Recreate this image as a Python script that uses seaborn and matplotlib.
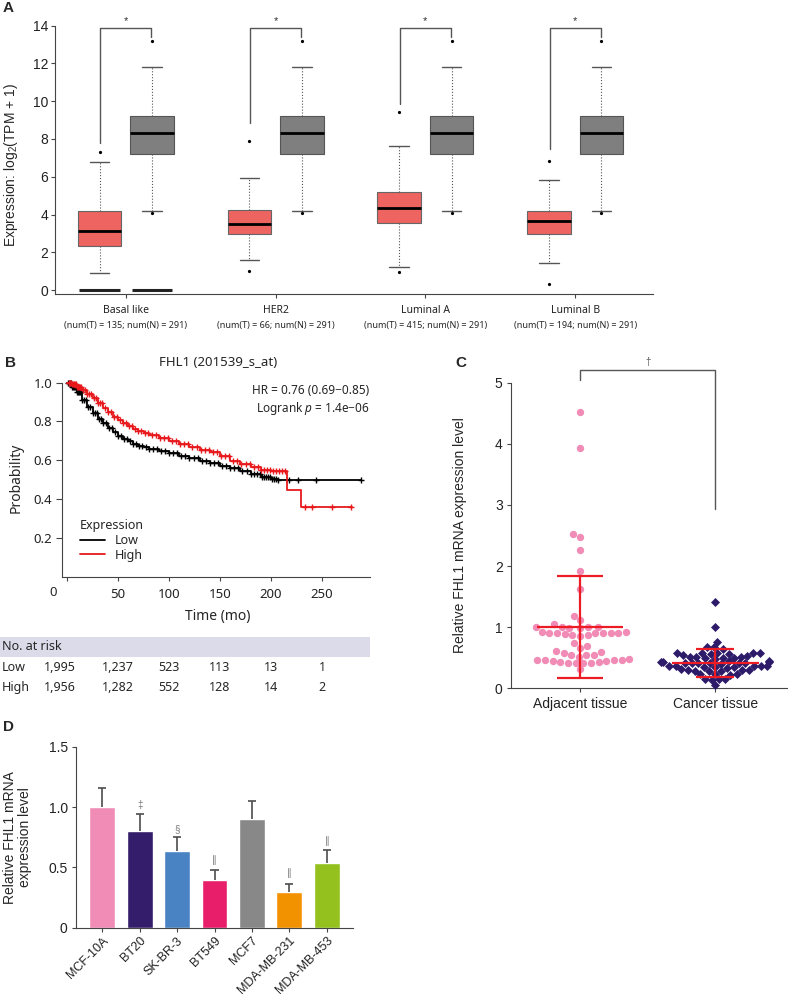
import numpy as np
import pandas as pd
import matplotlib
matplotlib.use('Agg')
import matplotlib.pyplot as plt
import seaborn as sns

sns.set_style('ticks')
plt.rcParams['font.family'] = ['Liberation Sans', 'DejaVu Sans']
plt.rcParams['mathtext.fontset'] = 'custom'
plt.rcParams['mathtext.rm'] = 'Liberation Sans'
plt.rcParams['mathtext.it'] = 'Noto Sans:italic'
plt.rcParams['mathtext.default'] = 'regular'
plt.rcParams['axes.edgecolor'] = '#444444'
plt.rcParams['xtick.color'] = '#444444'
plt.rcParams['ytick.color'] = '#444444'
plt.rcParams['xtick.labelcolor'] = '#222222'
plt.rcParams['ytick.labelcolor'] = '#222222'

# ---------------- data ----------------
# A: GEPIA expression boxes, [whislo, q1, med, q3, whishi]
subtypes = ['Basal like', 'HER2', 'Luminal A', 'Luminal B']
n_tumor = [135, 66, 415, 194]
n_normal = [291, 291, 291, 291]
tumor_box = [[0.9, 2.35, 3.15, 4.2, 6.8],
             [1.6, 2.97, 3.5, 4.23, 5.95],
             [1.2, 3.57, 4.36, 5.18, 7.63],
             [1.43, 2.99, 3.68, 4.2, 5.85]]
normal_box = [[4.19, 7.18, 8.34, 9.21, 11.8],
              [4.19, 7.18, 8.34, 9.21, 11.8],
              [4.19, 7.18, 8.34, 9.21, 11.8],
              [4.19, 7.18, 8.34, 9.21, 11.8]]
tumor_out = [[7.33], [7.9, 1.0], [9.44, 0.95], [6.82, 0.34]]
normal_out = [[13.2, 4.06], [13.2, 4.06], [13.2, 4.06], [13.2, 4.06]]
bracket_low = [7.78, 8.84, 9.86, 7.48]

# B: Kaplan-Meier curves
low_t = [0, 5, 10, 15, 20, 25, 30, 35, 40, 45, 50, 55, 60, 65, 70, 75, 80, 90,
         100, 110, 120, 130, 140, 150, 160, 170, 180, 190, 200, 207, 288]
low_s = [1.0, 0.98, 0.95, 0.91, 0.875, 0.845, 0.815, 0.79, 0.765, 0.745, 0.725,
         0.71, 0.697, 0.685, 0.675, 0.667, 0.66, 0.647, 0.635, 0.622, 0.61,
         0.597, 0.585, 0.572, 0.56, 0.545, 0.528, 0.512, 0.503, 0.50, 0.50]
high_t = [0, 5, 10, 15, 20, 25, 30, 35, 40, 45, 50, 55, 60, 65, 70, 75, 80, 90,
          100, 110, 120, 130, 140, 150, 160, 170, 180, 190, 200, 216, 229, 279]
high_s = [1.0, 0.995, 0.98, 0.96, 0.94, 0.92, 0.895, 0.87, 0.847, 0.825, 0.805,
          0.79, 0.777, 0.763, 0.75, 0.74, 0.73, 0.712, 0.698, 0.684, 0.668,
          0.655, 0.642, 0.62, 0.598, 0.58, 0.566, 0.552, 0.545, 0.446, 0.356, 0.356]
low_cens = [1, 2, 3, 4, 5, 6, 7, 8, 9, 10, 11, 12, 13, 14, 15, 17, 19, 21, 23, 25,
            27, 29, 31, 33, 35, 38, 41, 44, 47, 50, 53, 56, 59, 62, 65, 68, 71, 74,
            77, 80, 84, 88, 92, 96, 100, 104, 108, 112, 116, 120, 124, 128, 132,
            136, 140, 144, 148, 152, 156, 160, 164, 168, 172, 176, 180, 183, 186,
            189, 191, 193, 195, 197, 199, 201, 203, 205, 207, 218, 226, 244, 288]
high_cens = [2, 3, 4, 5, 6, 7, 8, 9, 10, 11, 12, 13, 14, 16, 18, 20, 22, 24, 26,
             28, 30, 32, 34, 37, 40, 43, 46, 49, 52, 55, 58, 61, 64, 67, 70, 73,
             76, 79, 83, 87, 91, 95, 99, 103, 107, 111, 115, 119, 123, 127, 131,
             135, 139, 143, 147, 151, 155, 159, 163, 167, 171, 175, 179, 183, 187,
             190, 193, 196, 199, 202, 205, 208, 211, 214, 233, 240, 260, 278]
risk_times = [0, 50, 100, 150, 200, 250]
risk_low = ['1,995', '1,237', '523', '113', '13', '1']
risk_high = ['1,956', '1,282', '552', '128', '14', '2']

# C: qPCR tissue
tissues = ['Adjacent tissue', 'Cancer tissue']
adjacent = [4.52, 3.93, 2.52, 2.47, 2.26, 1.92, 1.63, 1.19, 1.12, 1.05,
            1.0, 1.0, 0.99, 1.0, 1.01, 0.99,
            0.91, 0.9, 0.88, 0.92, 0.9, 0.89, 0.9, 0.91, 0.88, 0.9, 0.92, 0.86,
            0.74, 0.7, 0.66, 0.6, 0.58, 0.61, 0.545, 0.55, 0.54, 0.52,
            0.47, 0.46, 0.47, 0.48, 0.47,
            0.43, 0.44, 0.42, 0.43, 0.44, 0.42, 0.42, 0.41, 0.31]
cancer = [1.42, 1.0, 0.76, 0.68, 0.67, 0.64,
          0.58, 0.57, 0.56, 0.57, 0.58, 0.56, 0.57, 0.55,
          0.53, 0.52, 0.51, 0.52, 0.5, 0.49, 0.5, 0.48,
          0.43, 0.42, 0.41, 0.43, 0.44, 0.42, 0.41, 0.4, 0.42, 0.43, 0.44, 0.41,
          0.36, 0.35, 0.36, 0.37, 0.35, 0.34, 0.36, 0.35, 0.37,
          0.3, 0.29, 0.31, 0.3, 0.28, 0.3, 0.29,
          0.24, 0.23, 0.22, 0.23, 0.16, 0.15, 0.14, 0.15, 0.05]
tissue_mean = [1.0, 0.42]
tissue_sd = [0.835, 0.23]

# D: cell lines
cell_lines = ['MCF-10A', 'BT20', 'SK-BR-3', 'BT549', 'MCF7', 'MDA-MB-231', 'MDA-MB-453']
cell_expr = [1.0, 0.8, 0.635, 0.395, 0.898, 0.296, 0.536]
cell_err = [0.16, 0.14, 0.114, 0.083, 0.149, 0.063, 0.105]
cell_mark = ['', '‡', '§', '∥', '', '∥', '∥']
cell_mark_y = [0, 1.02, 0.82, 0.56, 0, 0.45, 0.72]
cell_colors = ['#F08CB5', '#341E6C', '#4A83C3', '#E91E6B', '#888888', '#F39200', '#95C11F']

W, H = 788, 1000
fig = plt.figure(figsize=(W / 100, H / 100), dpi=100)


def box(l, t, r, b):
    return [l / W, 1 - b / H, (r - l) / W, (b - t) / H]


def stats(rows, outs):
    return [dict(whislo=r[0], q1=r[1], med=r[2], q3=r[3], whishi=r[4], fliers=o)
            for r, o in zip(rows, outs)]


def panel_label(x, y, s):
    fig.text(x / W, 1 - y / H, s, fontsize=11, fontweight='bold', va='center', ha='left')


NOTO = 'Noto Sans'

# ---------------- A ----------------
axA = fig.add_axes(box(55, 20, 653, 294))
pos = np.arange(len(subtypes))
common = dict(widths=0.29, capwidths=0.13, patch_artist=True, manage_ticks=False,
              medianprops=dict(color='black', linewidth=2),
              whiskerprops=dict(color='#555555', linewidth=0.8, linestyle=':'),
              capprops=dict(color='#555555', linewidth=1),
              flierprops=dict(marker='o', markersize=1.3, markerfacecolor='black',
                              markeredgecolor='black'))
axA.bxp(stats(tumor_box, tumor_out), positions=pos - 0.175,
        boxprops=dict(facecolor='#ED6461', edgecolor='#666666', linewidth=0.8), **common)
axA.bxp(stats(normal_box, normal_out), positions=pos + 0.175,
        boxprops=dict(facecolor='#7F7F7F', edgecolor='#555555', linewidth=0.8), **common)
# flat zero boxes under basal like
axA.bxp(stats([[0, 0, 0, 0, 0], [0, 0, 0, 0, 0]], [[], []]), positions=[-0.175, 0.175],
        widths=0.27, manage_ticks=False, showcaps=False,
        medianprops=dict(color='#222222', linewidth=2.2),
        boxprops=dict(linewidth=0), whiskerprops=dict(linewidth=0))
for i, low in enumerate(bracket_low):
    axA.plot([i - 0.17, i - 0.17, i + 0.17, i + 0.17], [low, 13.85, 13.85, 13.4],
             color='#555555', lw=1, clip_on=False)
    axA.text(i, 14.25, '*', ha='center', va='center', fontsize=8, color='#333333')
axA.set_xlim(-0.473, 3.52)
axA.set_ylim(-0.21, 14.3)
axA.set_yticks(range(0, 15, 2))
axA.set_xticks(pos)
axA.set_xticklabels(subtypes, fontfamily=NOTO, fontsize=7.5)
axA.tick_params(axis='x', length=3, pad=5)
axA.tick_params(axis='y', length=3, labelsize=10, pad=2)
sns.despine(ax=axA)
axA.spines['left'].set_bounds(-0.21, 14)
axA.set_ylabel('Expression: log$_2$(TPM + 1)', fontsize=10)
axA.yaxis.set_label_coords(-0.058, 0.47)
for i in pos:
    axA.annotate(f'(num(T) = {n_tumor[i]}; num(N) = {n_normal[i]})', xy=(i, 0),
                 xycoords=('data', 'axes fraction'), xytext=(0, -22.8),
                 textcoords='offset points', ha='center', va='center',
                 fontsize=6.5, fontfamily=NOTO)
panel_label(3, 8, 'A')

# ---------------- B ----------------
axB = fig.add_axes(box(62, 378.8, 370, 576.5))


def km(ax, t, s, cens, color, label):
    t = np.array(t)
    s = np.array(s)
    ax.step(t, s, where='post', color=color, lw=1.3, label=label)
    cy = s[np.searchsorted(t, cens, side='right') - 1]
    ax.plot(cens, cy, ls='none', marker='+', ms=5, mew=1.0, color=color)


km(axB, low_t, low_s, low_cens, 'black', 'Low')
km(axB, high_t, high_s, high_cens, '#E8191C', 'High')
axB.set_xlim(-4.9, 297)
axB.set_ylim(0, 1.02)
axB.set_xticks(risk_times)
axB.set_xticklabels([''] + [str(v) for v in risk_times[1:]], fontfamily=NOTO, fontsize=9.5)
axB.set_yticks([0.2, 0.4, 0.6, 0.8, 1.0])
axB.set_yticklabels(['0.2', '0.4', '0.6', '0.8', '1.0'], fontfamily=NOTO, fontsize=9.5)
axB.tick_params(axis='x', length=3, pad=5)
axB.tick_params(axis='y', length=4, pad=3)
sns.despine(ax=axB)
axB.spines['left'].set_bounds(0, 1.0)
axB.set_xlabel('Time (mo)', fontfamily=NOTO, fontsize=10)
axB.xaxis.set_label_coords(0.506, -0.165)
axB.set_ylabel('Probability', fontfamily=NOTO, fontsize=10)
axB.yaxis.set_label_coords(-0.125, 0.5)
fig.text(53 / W, 1 - 593 / H, '0', fontfamily=NOTO, fontsize=9.5, ha='center', va='center')
fig.text(218 / W, 1 - 363 / H, 'FHL1 (201539_s_at)', fontfamily=NOTO, fontsize=9.5,
         ha='center', va='center')
axB.text(0.997, 0.94, 'HR = 0.76 (0.69−0.85)', transform=axB.transAxes, ha='right',
         va='center', fontfamily=NOTO, fontsize=8.5)
axB.text(0.997, 0.852, r'Logrank $\mathit{p}$ = 1.4e−06', transform=axB.transAxes,
         ha='right', va='center', fontfamily=NOTO, fontsize=8.5)
leg = axB.legend(title='Expression', loc='lower left', bbox_to_anchor=(0.03, 0.03),
                 frameon=False, handlelength=2.0, labelspacing=0.15, borderpad=0.2,
                 prop={'family': NOTO, 'size': 9},
                 title_fontproperties={'family': NOTO, 'size': 9})
leg._legend_box.align = 'left'
panel_label(5, 363, 'B')

# number at risk
axT = fig.add_axes(box(0, 635, 370, 695))
axT.set_xlim(-65.7, 297)
axT.set_ylim(695, 635)
axT.axis('off')
axT.axhspan(637, 657, color='#DCDBEA', lw=0)
axT.text(-64, 647, 'No. at risk', fontfamily=NOTO, fontsize=9, va='center', ha='left')
for row_y, name, vals in [(667.7, 'Low', risk_low), (687.3, 'High', risk_high)]:
    axT.text(-64, row_y, name, fontfamily=NOTO, fontsize=9, va='center', ha='left')
    for j, (tx, v) in enumerate(zip(risk_times, vals)):
        axT.annotate(v, xy=(tx, row_y), xytext=(-5 if j == 0 else 0, 0),
                     textcoords='offset points', ha='center', va='center',
                     fontfamily=NOTO, fontsize=9)

# ---------------- C ----------------
axC = fig.add_axes(box(511, 382.7, 787, 688.3))
df_c = pd.DataFrame({'tissue': [tissues[0]] * len(adjacent) + [tissues[1]] * len(cancer),
                     'value': adjacent + cancer})
sns.swarmplot(data=df_c[df_c.tissue == tissues[0]], x='tissue', y='value', order=tissues,
              color='#F08CB5', marker='o', size=5.3, linewidth=0, warn_thresh=1, ax=axC)
sns.swarmplot(data=df_c[df_c.tissue == tissues[1]], x='tissue', y='value', order=tissues,
              color='#2D1B69', marker='D', size=4.6, linewidth=0, warn_thresh=1, ax=axC)
for i, (m, sd, cap) in enumerate(zip(tissue_mean, tissue_sd, [16.5, 13.5])):
    axC.errorbar(i, m, yerr=sd, color='#ED1C24', lw=1.6, capsize=cap, capthick=1.6,
                 zorder=5)
    axC.hlines(m, i - 0.32, i + 0.32, color='#ED1C24', lw=1.6, zorder=5)
axC.plot([0, 0, 1, 1], [5.05, 5.2, 5.2, 2.94], color='#555555', lw=1, clip_on=False)
axC.text(0.5, 5.34, '†', ha='center', va='center', fontsize=7, color='#555555')
axC.set_xlim(-0.51, 1.53)
axC.set_ylim(0, 5)
axC.set_yticks(range(6))
axC.tick_params(axis='x', length=3, pad=3, labelsize=10)
axC.tick_params(axis='y', length=3, pad=3, labelsize=10)
for c in axC.collections:
    c.set_clip_on(False)
sns.despine(ax=axC)
axC.set_xlabel('')
axC.set_ylabel('Relative FHL1 mRNA expression level', fontsize=10)
axC.yaxis.set_label_coords(-0.158, 0.5)
panel_label(455, 363, 'C')

# ---------------- D ----------------
axD = fig.add_axes(box(76, 746.7, 353, 927.7))
xs = np.arange(len(cell_lines))
sns.barplot(x=cell_lines, y=cell_expr, hue=cell_lines, palette=cell_colors, legend=False,
            width=0.69, saturation=1, ax=axD)
tops = np.array(cell_expr) + np.array(cell_err)
axD.vlines(xs, cell_expr, tops, color='#4D4D4D', lw=1.2)
axD.hlines(tops, xs - 0.11, xs + 0.11, color='#4D4D4D', lw=1.2)
for i, (mk, my) in enumerate(zip(cell_mark, cell_mark_y)):
    if mk:
        axD.text(i, my, mk, ha='center', va='center', fontsize=7, color='#777777')
axD.set_xlim(-0.70, 6.70)
axD.set_ylim(0, 1.5)
axD.set_yticks([0, 0.5, 1.0, 1.5])
axD.set_yticklabels(['0', '0.5', '1.0', '1.5'])
axD.tick_params(axis='y', length=3, pad=3, labelsize=10)
axD.tick_params(axis='x', length=3, pad=2, labelsize=9)
plt.setp(axD.get_xticklabels(), rotation=45, ha='right', rotation_mode='anchor')
sns.despine(ax=axD)
axD.set_ylabel('Relative FHL1 mRNA\nexpression level', fontsize=10, linespacing=1.1)
axD.yaxis.set_label_coords(-0.16, 0.5)
panel_label(3, 727, 'D')

fig.savefig('out.png', dpi=100)
